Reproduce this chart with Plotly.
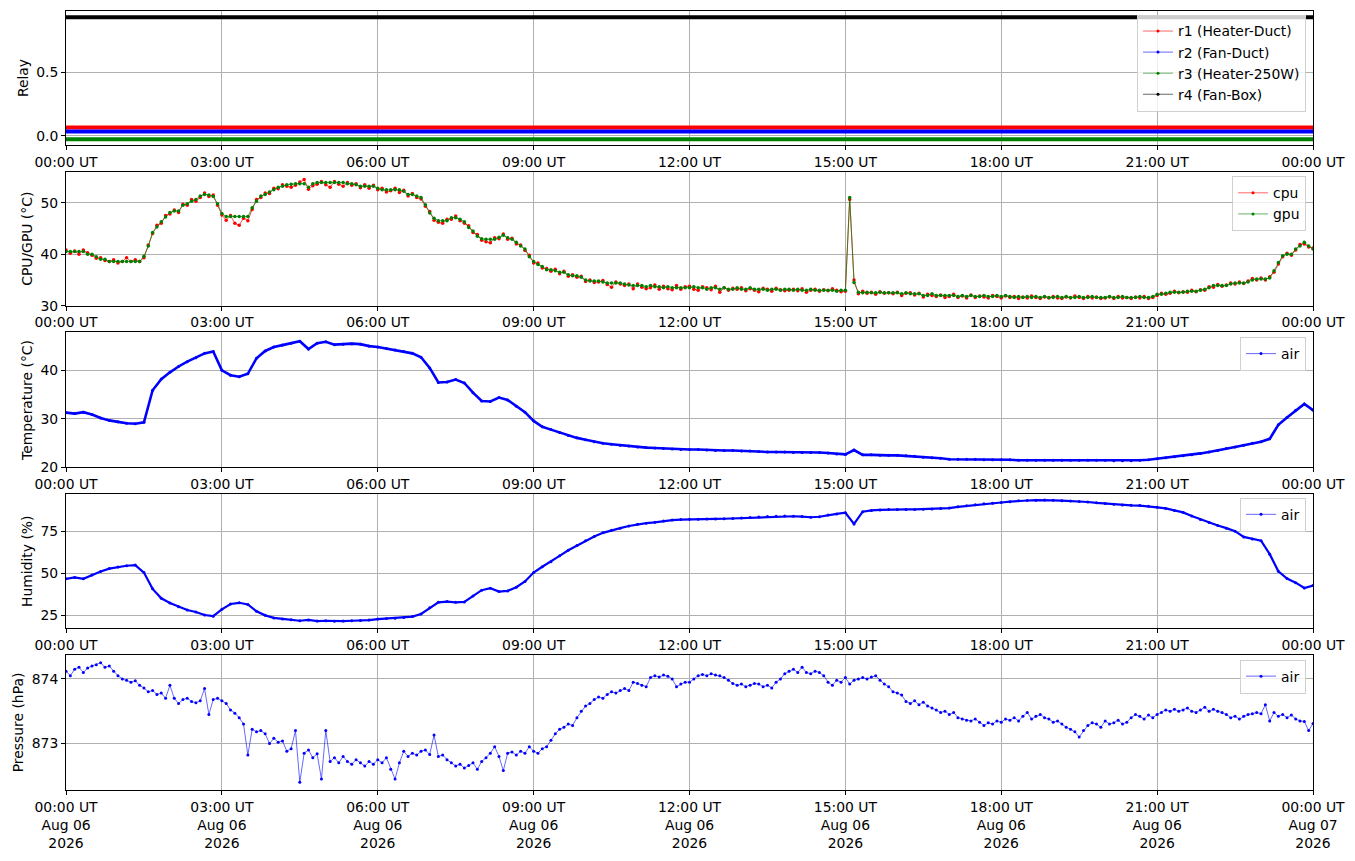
import pandas as pd
import plotly.graph_objects as go
from plotly.subplots import make_subplots

# ========== DATA ==========
DAY_START = "2026-08-06 00:00"
DAY_END = "2026-08-07 00:00"

# sample grids (5 min for cpu/gpu/pressure, 10 min for temperature/humidity)
t5 = pd.date_range(DAY_START, DAY_END, freq="5min")
t10 = pd.date_range(DAY_START, DAY_END, freq="10min")

# relay states (plotted with a small offset so the lines don't overlap)
relay_times = [DAY_START, DAY_END]
r1_heater_duct = [0.065, 0.065]
r2_fan_duct = [0.034, 0.034]
r3_heater_250w = [-0.028, -0.028]
r4_fan_box = [0.93, 0.93]

# cpu temperature, one row per hour (5 min steps), last value is 00:00 next day
cpu = [
    40.8, 40.2, 40.6, 40.0, 40.8, 40.3, 39.8, 39.2, 39.3, 38.8, 38.6, 38.9,
    38.3, 38.6, 39.3, 38.6, 38.9, 38.6, 39.3, 41.8, 44.0, 45.6, 46.0, 47.5,
    47.8, 48.6, 48.1, 49.7, 49.5, 50.6, 50.3, 51.0, 51.9, 51.2, 51.5, 49.5,
    47.6, 46.6, 47.5, 46.0, 45.6, 47.0, 46.5, 48.7, 50.6, 51.0, 51.9, 51.8,
    52.8, 52.7, 53.5, 53.2, 53.0, 53.4, 54.0, 54.5, 52.6, 53.3, 53.6, 54.1,
    53.5, 53.0, 54.1, 53.6, 53.2, 53.9, 53.4, 53.7, 52.9, 53.5, 52.8, 53.4,
    52.5, 52.8, 52.1, 52.3, 52.8, 52.0, 52.4, 51.3, 51.8, 51.0, 50.7, 49.3,
    48.3, 46.6, 46.2, 46.0, 46.8, 46.8, 47.4, 46.5, 46.0, 45.5, 44.2, 43.8,
    42.7, 42.4, 42.2, 43.2, 43.0, 43.9, 42.9, 43.1, 42.0, 41.8, 40.7, 39.8,
    38.3, 38.3, 37.3, 37.2, 36.7, 37.1, 36.2, 36.7, 35.7, 36.0, 35.5, 35.7,
    34.7, 35.0, 34.5, 34.6, 34.9, 34.1, 33.6, 34.6, 34.2, 33.9, 34.2, 33.3,
    34.2, 33.6, 33.3, 33.5, 34.0, 33.2, 33.8, 33.3, 33.1, 33.9, 33.2, 33.7,
    33.8, 33.2, 33.0, 33.7, 33.5, 33.1, 33.8, 32.6, 33.5, 33.0, 33.4, 33.2,
    33.5, 32.9, 33.3, 33.0, 32.7, 33.4, 33.2, 32.8, 33.4, 33.1, 32.9, 33.0,
    33.2, 32.9, 33.3, 32.6, 33.0, 33.2, 32.8, 33.1, 32.9, 33.3, 33.0, 32.7,
    32.8, 50.6, 35.0, 32.3, 32.8, 32.4, 32.6, 32.2, 32.7, 32.4, 32.5, 32.3,
    32.6, 32.0, 32.4, 32.5, 32.1, 32.4, 31.7, 32.2, 32.0, 31.8, 32.1, 31.6,
    31.8, 32.2, 31.6, 31.9, 31.5, 32.1, 31.6, 31.9, 31.7, 31.5, 32.0, 31.8,
    31.5, 31.9, 31.6, 31.8, 31.4, 31.7, 31.5, 31.9, 31.6, 31.4, 31.7, 31.5,
    31.8, 31.5, 31.4, 31.7, 31.5, 31.9, 31.6, 31.4, 31.8, 31.5, 31.7, 31.4,
    31.5, 31.7, 31.4, 31.8, 31.5, 31.6, 31.4, 31.7, 31.5, 31.8, 31.4, 31.6,
    32.0, 32.4, 32.2, 32.4, 32.8, 32.5, 32.7, 32.6, 33.0, 32.7, 33.1, 33.0,
    33.7, 33.6, 34.1, 33.8, 34.0, 34.4, 34.2, 34.6, 34.3, 34.8, 35.3, 35.0,
    35.4, 35.0, 35.6, 36.5, 38.1, 39.5, 40.2, 39.8, 40.8, 41.9, 42.0, 41.4,
    41.2,
]

gpu = [
    40.5, 40.5, 40.5, 40.5, 40.5, 40.0, 40.0, 39.5, 39.0, 39.0, 38.6, 38.6,
    38.6, 38.6, 38.6, 38.6, 38.6, 38.6, 39.6, 41.6, 44.2, 45.3, 46.3, 47.2,
    48.1, 48.4, 48.4, 49.5, 49.8, 50.3, 50.6, 51.3, 51.6, 51.5, 51.2, 49.8,
    47.9, 47.3, 47.3, 47.3, 47.3, 47.3, 47.3, 49.0, 50.3, 51.3, 51.6, 52.1,
    52.5, 53.0, 53.2, 53.5, 53.6, 53.7, 53.7, 53.7, 53.0, 53.7, 53.9, 53.9,
    53.9, 53.9, 53.9, 53.9, 53.9, 53.7, 53.7, 53.5, 53.2, 53.2, 53.2, 53.2,
    52.8, 52.5, 52.5, 52.5, 52.5, 52.5, 52.2, 51.6, 51.6, 51.3, 51.0, 49.6,
    48.0, 47.0, 46.5, 46.5, 46.5, 47.1, 47.1, 46.8, 46.3, 45.2, 44.5, 43.5,
    43.0, 42.9, 42.9, 42.9, 43.3, 43.7, 43.2, 42.9, 42.3, 41.6, 41.0, 39.5,
    38.6, 38.0, 37.6, 37.0, 37.0, 36.8, 36.5, 36.5, 36.0, 35.8, 35.8, 35.5,
    35.0, 34.8, 34.8, 34.8, 34.6, 34.4, 34.4, 34.4, 34.4, 34.2, 34.0, 33.9,
    33.9, 33.9, 33.7, 33.9, 33.7, 33.7, 33.5, 33.7, 33.5, 33.5, 33.5, 33.5,
    33.5, 33.7, 33.5, 33.5, 33.2, 33.5, 33.5, 33.2, 33.5, 33.2, 33.2, 33.5,
    33.2, 33.2, 33.5, 33.2, 33.2, 33.2, 33.0, 33.2, 33.2, 33.0, 33.2, 33.2,
    33.0, 33.2, 33.0, 33.0, 33.2, 33.0, 33.0, 33.0, 33.0, 33.0, 32.8, 33.0,
    33.0, 51.0, 34.5, 32.6, 32.5, 32.6, 32.5, 32.5, 32.6, 32.5, 32.5, 32.5,
    32.5, 32.3, 32.5, 32.3, 32.3, 32.3, 32.0, 32.0, 32.3, 32.0, 32.0, 32.0,
    32.0, 32.0, 31.8, 32.0, 31.8, 32.0, 31.8, 31.8, 32.0, 31.8, 31.8, 32.0,
    31.8, 32.0, 31.8, 31.6, 31.8, 31.6, 31.8, 31.6, 31.8, 31.6, 31.8, 31.6,
    31.6, 31.8, 31.6, 31.8, 31.6, 31.6, 31.8, 31.6, 31.6, 31.8, 31.6, 31.6,
    31.6, 31.8, 31.6, 31.6, 31.8, 31.6, 31.6, 31.6, 31.8, 31.6, 31.6, 31.8,
    32.2, 32.2, 32.4, 32.6, 32.6, 32.6, 32.6, 32.8, 32.8, 32.8, 33.0, 33.2,
    33.5, 33.9, 33.9, 33.9, 33.9, 34.2, 34.4, 34.4, 34.4, 34.6, 35.0, 35.2,
    35.2, 35.2, 35.4, 36.8, 38.4, 39.7, 40.0, 40.0, 41.0, 41.6, 42.3, 41.6,
    41.0,
]

# air temperature (10 min steps), six values per hour
air_temp = [
    31.3, 31.1, 31.4, 30.9, 30.2, 29.7, 29.4, 29.1, 29.0, 29.3, 35.9, 38.2,
    39.6, 40.8, 41.8, 42.6, 43.5, 43.9, 40.0, 39.0, 38.7, 39.3, 42.5, 44.0,
    44.8, 45.2, 45.6, 46.0, 44.4, 45.6, 45.9, 45.3, 45.4, 45.5, 45.4, 45.0,
    44.8, 44.5, 44.2, 43.9, 43.5, 42.7, 40.5, 37.5, 37.6, 38.1, 37.4, 35.4,
    33.7, 33.6, 34.4, 33.9, 32.6, 31.4, 29.6, 28.4, 27.8, 27.2, 26.6, 26.1,
    25.7, 25.3, 25.0, 24.8, 24.6, 24.4, 24.2, 24.1, 24.0, 23.9, 23.8, 23.7,
    23.7, 23.7, 23.6, 23.5, 23.5, 23.5, 23.4, 23.4, 23.3, 23.2, 23.2, 23.2,
    23.1, 23.1, 23.1, 23.1, 23.0, 22.8, 22.7, 23.6, 22.6, 22.6, 22.5, 22.5,
    22.5, 22.4, 22.3, 22.1, 22.0, 21.9, 21.7, 21.7, 21.7, 21.7, 21.6, 21.6,
    21.6, 21.6, 21.5, 21.5, 21.5, 21.5, 21.5, 21.5, 21.5, 21.5, 21.5, 21.5,
    21.5, 21.4, 21.4, 21.4, 21.5, 21.6, 21.8, 22.0, 22.2, 22.4, 22.6, 22.9,
    23.2, 23.5, 23.9, 24.2, 24.6, 25.0, 25.3, 25.9, 28.8, 30.3, 31.8, 33.1,
    31.8,
]

air_humidity = [
    46.8, 47.6, 46.8, 49.0, 51.2, 52.9, 53.9, 54.6, 55.0, 50.5, 40.8, 35.2,
    32.4, 30.1, 28.2, 27.0, 25.2, 24.5, 28.6, 31.8, 32.5, 31.5, 27.4, 25.0,
    23.5, 22.9, 22.4, 21.8, 22.3, 21.6, 21.8, 21.5, 21.6, 21.8, 21.9, 22.2,
    22.8, 23.2, 23.3, 23.8, 24.3, 25.8, 29.5, 32.8, 33.2, 32.8, 33.0, 36.5,
    40.0, 41.2, 39.2, 39.6, 41.8, 45.2, 50.5, 54.0, 57.0, 60.5, 63.8, 66.6,
    69.5, 72.0, 74.2, 75.8, 77.0, 78.3, 79.3, 80.0, 80.5, 81.3, 81.8, 82.1,
    82.3, 82.3, 82.4, 82.5, 82.6, 82.8, 83.0, 83.3, 83.6, 83.9, 84.1, 84.2,
    84.1, 83.9, 83.5, 83.8, 84.8, 85.5, 86.2, 79.5, 86.8, 87.6, 87.9, 88.1,
    88.2, 88.2, 88.2, 88.3, 88.5, 88.7, 89.0, 89.7, 90.3, 90.9, 91.5, 91.9,
    92.3, 92.8, 93.3, 93.5, 93.7, 93.8, 93.6, 93.4, 93.2, 92.9, 92.6, 92.1,
    91.7, 91.3, 90.8, 90.6, 90.5, 90.1, 89.4, 88.8, 87.6, 86.4, 84.2, 82.2,
    80.4, 78.6, 77.0, 75.2, 71.8, 70.5, 69.5, 61.5, 51.3, 47.0, 44.5, 41.3,
    42.8,
]

# air pressure (5 min steps), one row per hour
air_pressure = [
    874.12, 874.05, 874.15, 874.18, 874.10, 874.17, 874.20, 874.22, 874.25, 874.18, 874.20, 874.12,
    874.05, 874.00, 873.98, 873.95, 873.97, 873.90, 873.86, 873.80, 873.82, 873.76, 873.78, 873.70,
    873.90, 873.70, 873.62, 873.68, 873.70, 873.65, 873.63, 873.66, 873.85, 873.45, 873.68, 873.70,
    873.66, 873.62, 873.52, 873.47, 873.40, 873.30, 872.82, 873.22, 873.18, 873.20, 873.15, 873.00,
    873.08, 873.02, 873.04, 872.88, 872.92, 873.20, 872.40, 872.85, 872.90, 872.78, 872.84, 872.45,
    873.20, 872.72, 872.78, 872.70, 872.80, 872.72, 872.68, 872.75, 872.70, 872.65, 872.72, 872.68,
    872.75, 872.70, 872.78, 872.60, 872.45, 872.70, 872.88, 872.80, 872.85, 872.82, 872.88, 872.90,
    872.83, 873.13, 872.80, 872.82, 872.75, 872.70, 872.65, 872.68, 872.62, 872.66, 872.70, 872.60,
    872.72, 872.78, 872.85, 872.95, 872.80, 872.58, 872.85, 872.87, 872.82, 872.88, 872.85, 872.95,
    872.88, 872.85, 872.92, 872.95, 873.05, 873.15, 873.22, 873.25, 873.30, 873.28, 873.40, 873.50,
    873.58, 873.62, 873.68, 873.72, 873.70, 873.76, 873.80, 873.78, 873.82, 873.85, 873.82, 873.95,
    873.93, 873.90, 873.88, 874.02, 874.05, 874.03, 874.06, 874.04, 874.00, 873.88, 873.92, 873.95,
    873.95, 874.00, 874.05, 874.07, 874.05, 874.08, 874.06, 874.05, 874.02, 873.98, 873.93, 873.90,
    873.92, 873.88, 873.90, 873.93, 873.92, 873.88, 873.90, 873.86, 873.95, 874.00, 874.08, 874.12,
    874.15, 874.10, 874.18, 874.10, 874.08, 874.12, 874.10, 874.05, 873.95, 873.90, 873.98, 873.95,
    874.02, 873.92, 873.98, 874.00, 874.02, 874.00, 874.03, 874.05, 873.98, 873.92, 873.88, 873.80,
    873.78, 873.75, 873.65, 873.62, 873.66, 873.60, 873.64, 873.58, 873.55, 873.52, 873.48, 873.50,
    873.45, 873.48, 873.40, 873.38, 873.36, 873.35, 873.38, 873.33, 873.28, 873.32, 873.30, 873.35,
    873.33, 873.38, 873.36, 873.40, 873.35, 873.42, 873.48, 873.38, 873.42, 873.45, 873.40, 873.38,
    873.33, 873.35, 873.30, 873.25, 873.22, 873.18, 873.10, 873.20, 873.28, 873.32, 873.30, 873.25,
    873.35, 873.30, 873.32, 873.36, 873.30, 873.33, 873.40, 873.45, 873.42, 873.38, 873.44, 873.40,
    873.45, 873.48, 873.52, 873.50, 873.53, 873.50, 873.52, 873.55, 873.50, 873.48, 873.52, 873.56,
    873.50, 873.53, 873.50, 873.48, 873.45, 873.40, 873.42, 873.38, 873.42, 873.45, 873.46, 873.48,
    873.46, 873.60, 873.35, 873.48, 873.42, 873.45, 873.40, 873.44, 873.38, 873.35, 873.34, 873.20,
    873.31,
]

# ========== AXIS TICKS ==========
tick_times = pd.date_range(DAY_START, DAY_END, freq="3h")
tick_hours = ["00:00 UT", "03:00 UT", "06:00 UT", "09:00 UT", "12:00 UT",
              "15:00 UT", "18:00 UT", "21:00 UT", "00:00 UT"]
tick_days = ["Aug 06"] * 8 + ["Aug 07"]
tick_year = "2026"

FONT = "DejaVu Sans"
FS = 13.9


def add_series(fig, row, x, y, name, color, legend, plot_width, marker_size):
    # data trace (thick-ish look like the dense original), and a thin legend proxy
    fig.add_trace(go.Scatter(x=x, y=y, mode="lines+markers", name=name,
                             line=dict(color=color, width=plot_width),
                             marker=dict(color=color, size=marker_size),
                             showlegend=False), row=row, col=1)
    fig.add_trace(go.Scatter(x=[None], y=[None], mode="lines+markers", name=name,
                             line=dict(color=color, width=0.6),
                             marker=dict(color=color, size=3),
                             legend=legend), row=row, col=1)


def main():
    fig = make_subplots(rows=5, cols=1)

    # ========== RELAYS ==========
    add_series(fig, 1, relay_times, r1_heater_duct, "r1 (Heater-Duct)", "red", "legend", 4, 3)
    add_series(fig, 1, relay_times, r2_fan_duct, "r2 (Fan-Duct)", "blue", "legend", 4, 3)
    add_series(fig, 1, relay_times, r3_heater_250w, "r3 (Heater-250W)", "green", "legend", 4, 3)
    add_series(fig, 1, relay_times, r4_fan_box, "r4 (Fan-Box)", "black", "legend", 4, 3)

    # ========== CPU / GPU ==========
    add_series(fig, 2, t5, cpu, "cpu", "red", "legend2", 0.7, 3.5)
    add_series(fig, 2, t5, gpu, "gpu", "green", "legend2", 0.7, 3.5)

    # ========== AIR ==========
    add_series(fig, 3, t10, air_temp, "air", "blue", "legend3", 2.6, 3)
    add_series(fig, 4, t10, air_humidity, "air", "blue", "legend4", 2.2, 3)
    add_series(fig, 5, t5, air_pressure, "air", "blue", "legend5", 0.6, 3)

    # layout, measured to match the original matplotlib figure
    y_domains = [[0.828, 1.0], [0.6217, 0.7936], [0.414, 0.5873],
                 [0.2076, 0.3796], [0.0, 0.1733]]
    y_ranges = [[-0.072, 0.978], [30, 56], [20, 47.8], [17.3, 97.2], [872.28, 874.37]]
    y_ticks = [[0.0, 0.5], [30, 40, 50], [20, 30, 40], [25, 50, 75], [873, 874]]
    y_tick_text = [["0.0", "0.5"], ["30", "40", "50"], ["20", "30", "40"],
                   ["25", "50", "75"], ["873", "874"]]
    y_titles = ["Relay", "CPU/GPU (°C)", "Temperature (°C)", "Humidity (%)", "Pressure (hPa)"]
    legend_tops = [0.9955, 0.7878, 0.5814, 0.3751, 0.1674]

    axis_style = dict(showline=True, mirror=True, linecolor="black", linewidth=1,
                      ticks="outside", ticklen=4, tickwidth=0.8, tickcolor="black",
                      showgrid=True, gridcolor="#b0b0b0", gridwidth=0.8,
                      zeroline=False, tickfont=dict(family=FONT, size=FS, color="black"))

    for i in range(5):
        row = i + 1
        if row < 5:
            ttext = tick_hours
        else:
            ttext = [f"{h}<br>{d}<br>{tick_year}" for h, d in zip(tick_hours, tick_days)]
        fig.update_xaxes(axis_style, range=[DAY_START, DAY_END], tickvals=tick_times,
                         ticktext=ttext, row=row, col=1)
        fig.update_yaxes(axis_style, domain=y_domains[i], range=y_ranges[i],
                         tickvals=y_ticks[i], ticktext=y_tick_text[i],
                         title=dict(text=y_titles[i], standoff=4,
                                    font=dict(family=FONT, size=FS, color="black")),
                         row=row, col=1)

    legend_style = dict(x=0.9944, xanchor="right", yanchor="top",
                        bgcolor="rgba(255,255,255,0.8)", bordercolor="#d0d0d0",
                        borderwidth=1, itemwidth=30,
                        font=dict(family=FONT, size=FS, color="black"))
    legends = {}
    for i, top in enumerate(legend_tops):
        key = "legend" if i == 0 else f"legend{i + 1}"
        legends[key] = dict(legend_style, y=top)

    # the page body adds an 8 px offset, so the figure is drawn 8 px smaller on each side
    fig.update_layout(width=1339, height=845,
                      margin=dict(l=58, r=33, t=2, b=58),
                      paper_bgcolor="white", plot_bgcolor="white",
                      font=dict(family=FONT, size=FS, color="black"),
                      **legends)

    fig.write_html("out.html")


if __name__ == '__main__':
    main()
